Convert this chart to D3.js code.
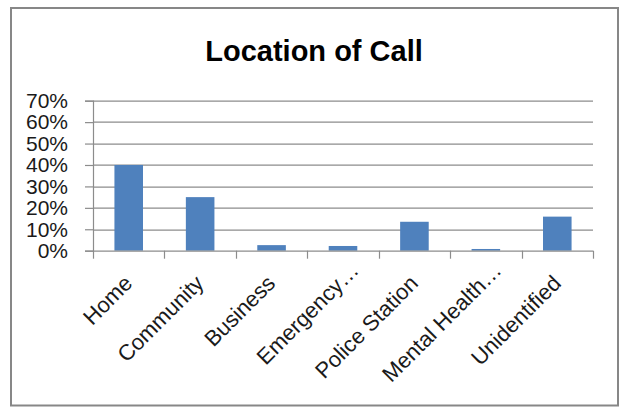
<!DOCTYPE html>
<html>
<head>
<meta charset="utf-8">
<script src="https://cdn.jsdelivr.net/npm/d3@7"></script>
<style>
  html, body { margin: 0; padding: 0; background: #fff; }
  svg { display: block; }
</style>
</head>
<body>
<svg id="chart" width="619" height="408"></svg>
<script>
const title = "Location of Call";
const categories = ["Home", "Community", "Business", "Emergency…", "Police Station", "Mental Health…", "Unidentified"];
const values = [0.40, 0.25, 0.026, 0.022, 0.135, 0.008, 0.159];
const yTicks = [0, 0.1, 0.2, 0.3, 0.4, 0.5, 0.6, 0.7];

const svg = d3.select("#chart");
const W = 619, H = 408;
const margin = { left: 93, right: 26, top: 100.7, bottom: 157.3 };
const plotW = W - margin.left - margin.right;
const plotH = H - margin.top - margin.bottom;

// outer frame
svg.append("rect")
  .attr("x", 11).attr("y", 8).attr("width", 607).attr("height", 397.5)
  .attr("fill", "#fff").attr("stroke", "#878787").attr("stroke-width", 2);

svg.append("text")
  .attr("x", 314).attr("y", 61)
  .attr("text-anchor", "middle")
  .attr("font-family", "'Liberation Sans', Arial, sans-serif")
  .attr("font-weight", "bold").attr("font-size", 29)
  .attr("fill", "#000")
  .text(title);

const g = svg.append("g").attr("transform", `translate(${margin.left},${margin.top})`);

const x = d3.scaleBand().domain(categories).range([0, plotW]).paddingInner(0.6).paddingOuter(0.3);
const xOuter = d3.scaleBand().domain(categories).range([0, plotW]);
const y = d3.scaleLinear().domain([0, 0.7]).range([plotH, 0]);

// gridlines
g.append("g").selectAll("line").data(yTicks.filter(d => d > 0)).join("line")
  .attr("x1", 0).attr("x2", plotW)
  .attr("y1", d => Math.round(y(d)) + 0.5).attr("y2", d => Math.round(y(d)) + 0.5)
  .attr("stroke", "#8c8c8c").attr("stroke-width", 1.2);

// bars
g.append("g").selectAll("rect").data(categories).join("rect")
  .attr("x", d => x(d))
  .attr("width", x.bandwidth())
  .attr("y", (d, i) => y(values[i]))
  .attr("height", (d, i) => plotH - y(values[i]))
  .attr("fill", "#4F81BD");

// y axis
const yAxis = d3.axisLeft(y).tickValues(yTicks).tickFormat(d3.format(".0%")).tickSize(8).tickPadding(17);
const ya = g.append("g").call(yAxis);
ya.select(".domain").attr("stroke", "#8c8c8c").attr("stroke-width", 1.2);
ya.selectAll(".tick line").attr("stroke", "#8c8c8c").attr("stroke-width", 1.2);
ya.selectAll("text")
  .attr("font-family", "'Liberation Sans', Arial, sans-serif")
  .attr("font-size", 21).attr("fill", "#1a1a1a");

// x axis
const xa = g.append("g").attr("transform", `translate(0,${plotH})`);
xa.append("line").attr("x1", 0).attr("x2", plotW).attr("y1", 0.5).attr("y2", 0.5)
  .attr("stroke", "#8c8c8c").attr("stroke-width", 1.2);
const bounds = categories.map(c => xOuter(c)).concat([plotW]);
xa.selectAll("line.tk").data(bounds).join("line").attr("class", "tk")
  .attr("x1", d => Math.round(d) + 0.5).attr("x2", d => Math.round(d) + 0.5)
  .attr("y1", 0).attr("y2", 8)
  .attr("stroke", "#8c8c8c").attr("stroke-width", 1.2);

xa.selectAll("text.lbl").data(categories).join("text").attr("class", "lbl")
  .attr("transform", d => {
    const cx = xOuter(d) + xOuter.bandwidth() / 2;
    const ell = d.endsWith("…");
    const dx = ell ? 17 : 5, dy = ell ? 21 : 34;
    return `translate(${cx + dx},${dy}) rotate(-45)`;
  })
  .attr("text-anchor", "end")
  .attr("font-family", "'Liberation Sans', Arial, sans-serif")
  .attr("font-size", 22).attr("fill", "#1a1a1a")
  .text(d => d);
</script>
</body>
</html>
